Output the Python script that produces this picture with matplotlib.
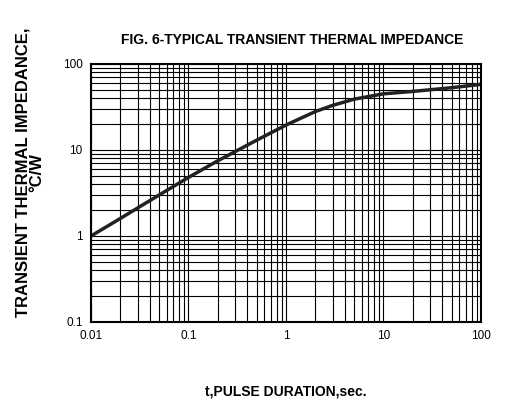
import numpy as np
import matplotlib.pyplot as plt
from matplotlib.ticker import FixedLocator, LogLocator, NullFormatter

# curve
t = [0.01, 0.02, 0.05, 0.1, 0.2, 0.5, 1, 2, 3, 5, 10, 20, 50, 100]
z = [1.0, 1.6, 3.0, 4.8, 7.5, 13.0, 19.5, 28, 33, 39, 45, 48, 53, 58]

xticks = [0.01, 0.1, 1, 10, 100]
xlabels = ['0.01', '0.1', '1', '10', '100']
yticks = [0.1, 1, 10, 100]
ylabels = ['0.1', '1', '10', '100']

plt.rcParams['font.family'] = ['Liberation Sans', 'DejaVu Sans']
fig = plt.figure(figsize=(5.1, 4.12), dpi=100)
ax = fig.add_axes([91/510, 1-322/412, 390/510, 258/412])

ax.plot(t, z, color='#222222', lw=2.5)
ax.set_xscale('log')
ax.set_yscale('log')
ax.set_xlim(0.01, 100)
ax.set_ylim(0.1, 100)
ax.xaxis.set_major_locator(FixedLocator(xticks))
ax.set_xticklabels(xlabels)
ax.yaxis.set_major_locator(FixedLocator(yticks))
ax.set_yticklabels(ylabels)
ax.xaxis.set_minor_locator(LogLocator(subs=np.arange(2, 10)))
ax.yaxis.set_minor_locator(LogLocator(subs=np.arange(2, 10)))
ax.xaxis.set_minor_formatter(NullFormatter())
ax.yaxis.set_minor_formatter(NullFormatter())
ax.grid(which='both', color='black', lw=0.8)
ax.tick_params(which='both', length=0, labelsize=8.5, pad=6)
for s in ax.spines.values():
    s.set_linewidth(1.5)

fig.text(292/510, 1-40/412, 'FIG. 6-TYPICAL TRANSIENT THERMAL IMPEDANCE',
         ha='center', va='center', fontsize=10, fontweight='bold')
fig.text(286/510, 1-392/412, 't,PULSE DURATION,sec.',
         ha='center', va='center', fontsize=10, fontweight='bold')
fig.text(30/510, 1-172/412, 'TRANSIENT THERMAL IMPEDANCE,\n°C/W',
         ha='center', va='center', rotation=90, fontsize=12, fontweight='bold',
         linespacing=0.9)

fig.savefig('out.png', dpi=100)
